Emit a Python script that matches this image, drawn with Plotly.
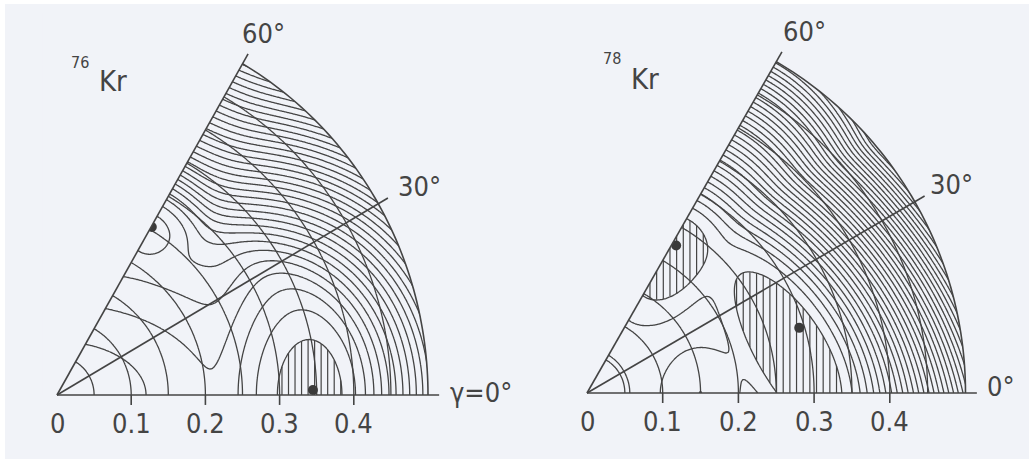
import numpy as np
import plotly.graph_objects as go

# ---------------------------------------------------------------- page / style
FIG_W, FIG_H = 1029, 459
BG = "#f1f3f8"
INK = "#444444"
FONT = "Liberation Sans Narrow, DejaVu Sans Condensed, Arial Narrow, sans-serif"

BETA_MAX = 0.5          # outer arc of each sextant
BETA_LINE_END = 0.515   # how far the 0/30/60 degree rays are drawn

# ---------------------------------------------------------------- shared data
ring_betas = [0.05, 0.10, 0.15, 0.20, 0.25, 0.30, 0.35, 0.40, 0.45]
beta_ticks = [0.1, 0.2, 0.3, 0.4]
beta_tick_labels = ["0", "0.1", "0.2", "0.3", "0.4"]
beta_tick_label_pos = [0.0, 0.1, 0.2, 0.3, 0.4]

# ---------------------------------------------------------------- 76Kr surface
# basins: spherical, prolate, oblate
kr76_basin_beta = [0.0, 0.345, 0.254]
kr76_basin_gamma = [0.0, 0.0, 60.0]
kr76_basin_energy = [0.0, -2.0, 2.3]
kr76_basin_width_a = [0.12, 0.048, 0.040]
kr76_basin_width_b = [0.07, 0.076, 0.040]
kr76_basin_orient = [0.0, 0.0, 60.0]
kr76_basin_power = [1.3, 1.5, 1.8]
kr76_wall_start = [0.40, 0.28]     # at gamma = 0, 60 deg
kr76_wall_slope = [60.0, 85.0]
kr76_levels = [-1.0, 60.0]
kr76_hatch_basin = [1]
kr76_hatch_level = [-1.0]
kr76_min_beta = [0.254, 0.345]
kr76_min_gamma = [59.8, 1.1]

# ---------------------------------------------------------------- 78Kr surface
# basins: spherical, small prolate pocket, oblate, triaxial
kr78_basin_beta = [0.0, 0.150, 0.222, 0.284]
kr78_basin_gamma = [0.0, 0.0, 59.0, 10.0]
kr78_basin_energy = [0.3, 0.0, -1.0, -1.5]
kr78_basin_width_a = [0.07, 0.05, 0.075, 0.108]
kr78_basin_width_b = [0.07, 0.059, 0.045, 0.040]
kr78_basin_orient = [0.0, 0.0, 60.0, -58.0]
kr78_basin_power = [1.6, 2.0, 1.8, 1.6]
kr78_wall_start = [0.34, 0.27]
kr78_wall_slope = [80.0, 90.0]
kr78_levels = [0.0, 60.0]
kr78_hatch_basin = [2, 3]
kr78_hatch_level = [0.0, 0.0]
kr78_min_beta = [0.226, 0.293]
kr78_min_gamma = [58.6, 16.9]


def surface(X, Y, bb, bg, be, wa, wb, orient, pw, wall_start, wall_slope,
            tau=0.6, delta=0.015):
    """Soft minimum of power-law basins plus a stiff outer wall."""
    basins = []
    for b, g, e, a, c, o, p in zip(bb, bg, be, wa, wb, orient, pw):
        xc, yc = b * np.cos(np.radians(g)), b * np.sin(np.radians(g))
        th = np.radians(o)
        u = (X - xc) * np.cos(th) + (Y - yc) * np.sin(th)
        v = -(X - xc) * np.sin(th) + (Y - yc) * np.cos(th)
        r = np.sqrt((u / a) ** 2 + (v / c) ** 2)
        basins.append(e + r ** p)
    B = np.stack(basins)
    m = B.min(axis=0)
    F = m - tau * np.log(np.exp(-(B - m) / tau).sum(axis=0))
    beta = np.hypot(X, Y)
    gam = np.clip(np.degrees(np.arctan2(Y, X)), 0, 60)
    w = (1 - np.cos(np.radians(3 * gam))) / 2
    bw = wall_start[0] + (wall_start[1] - wall_start[0]) * w
    S = wall_slope[0] + (wall_slope[1] - wall_slope[0]) * w
    F = F + S * delta * np.logaddexp(0, (beta - bw) / delta)
    return F, B.argmin(axis=0)


xg = np.linspace(0, 0.52, 261)
yg = np.linspace(0, 0.46, 231)
XG, YG = np.meshgrid(xg, yg)

panels = [
    dict(xa="x", ya="y", basins=(kr76_basin_beta, kr76_basin_gamma, kr76_basin_energy,
                                  kr76_basin_width_a, kr76_basin_width_b, kr76_basin_orient,
                                  kr76_basin_power),
         wall=(kr76_wall_start, kr76_wall_slope), levels=kr76_levels,
         hatch=(kr76_hatch_basin, kr76_hatch_level),
         minima=(kr76_min_beta, kr76_min_gamma)),
    dict(xa="x2", ya="y2", basins=(kr78_basin_beta, kr78_basin_gamma, kr78_basin_energy,
                                    kr78_basin_width_a, kr78_basin_width_b, kr78_basin_orient,
                                    kr78_basin_power),
         wall=(kr78_wall_start, kr78_wall_slope), levels=kr78_levels,
         hatch=(kr78_hatch_basin, kr78_hatch_level),
         minima=(kr78_min_beta, kr78_min_gamma)),
]

fig = go.Figure()
shapes = []
annotations = []
ink_scale = [[0, INK], [1, INK]]

for P in panels:
    xa, ya = P["xa"], P["ya"]
    F, owner = surface(XG, YG, *P["basins"], *P["wall"])

    # equal-energy contours
    fig.add_trace(go.Contour(
        x=xg, y=yg, z=F, xaxis=xa, yaxis=ya,
        contours=dict(coloring="lines", start=P["levels"][0], end=P["levels"][1], size=1),
        line=dict(width=1.3, smoothing=0.8), colorscale=ink_scale,
        showscale=False, hoverinfo="skip"))

    # constant-beta rings
    fig.add_trace(go.Contour(
        x=xg, y=yg, z=np.hypot(XG, YG), xaxis=xa, yaxis=ya,
        contours=dict(coloring="lines", start=ring_betas[0], end=ring_betas[-1],
                      size=ring_betas[1] - ring_betas[0]),
        line=dict(width=1.3, smoothing=1.0), colorscale=ink_scale,
        showscale=False, hoverinfo="skip"))

    # vertical hatching of the lowest pockets
    hx = np.arange(0.004, BETA_MAX, 0.0088)
    hy = np.linspace(0, 0.45, 901)
    HX, HY = np.meshgrid(hx, hy, indexing="ij")
    Fh, oh = surface(HX, HY, *P["basins"], *P["wall"])
    inside = (np.hypot(HX, HY) <= BETA_MAX) & (HY <= HX * np.tan(np.radians(60)))
    sel = np.zeros_like(inside)
    for b, lv in zip(*P["hatch"]):
        sel |= (oh == b) & (Fh < lv)
    sel &= inside
    sx, sy = [], []
    for i, x in enumerate(hx):
        col = sel[i]
        if not col.any():
            continue
        d = np.diff(np.concatenate([[0], col.astype(int), [0]]))
        starts, ends = np.where(d == 1)[0], np.where(d == -1)[0] - 1
        for s0, e0 in zip(starts, ends):
            sx += [x, x, None]
            sy += [hy[s0], hy[e0], None]
    fig.add_trace(go.Scatter(x=sx, y=sy, mode="lines", xaxis=xa, yaxis=ya,
                             line=dict(color=INK, width=1.2), hoverinfo="skip",
                             showlegend=False))

    # minima
    mb, mgam = np.array(P["minima"][0]), np.radians(P["minima"][1])
    fig.add_trace(go.Scatter(x=mb * np.cos(mgam), y=mb * np.sin(mgam), mode="markers",
                             xaxis=xa, yaxis=ya, marker=dict(size=10, color="#3a3a3a"),
                             hoverinfo="skip", showlegend=False))

    # mask everything outside the sextant
    arc_g = np.radians(np.linspace(60, 0, 61))
    pts = [(0, 0)] + [(BETA_MAX * np.cos(a), BETA_MAX * np.sin(a)) for a in arc_g] + \
          [(0.56, 0), (0.56, 0.5), (-0.02, 0.5), (-0.02, 0)]
    path = "M " + " L ".join(f"{px:.5f},{py:.5f}" for px, py in pts) + " Z"
    shapes.append(dict(type="path", path=path, xref=xa, yref=ya, fillcolor=BG,
                       line=dict(width=0), layer="above"))

    # frame: rays, outer arc and beta ticks
    for g in (0, 30, 60):
        gr = np.radians(g)
        shapes.append(dict(type="line", xref=xa, yref=ya, x0=0, y0=0,
                           x1=BETA_LINE_END * np.cos(gr), y1=BETA_LINE_END * np.sin(gr),
                           line=dict(color=INK, width=1.6), layer="above"))
    arc_pts = [(BETA_MAX * np.cos(a), BETA_MAX * np.sin(a)) for a in np.radians(np.linspace(0, 60, 61))]
    shapes.append(dict(type="path", xref=xa, yref=ya, layer="above",
                       path="M " + " L ".join(f"{px:.5f},{py:.5f}" for px, py in arc_pts),
                       line=dict(color=INK, width=1.6)))
    for t in beta_ticks:
        shapes.append(dict(type="line", xref=xa, yref=ya, x0=t, y0=0, x1=t, y1=-0.013,
                           line=dict(color=INK, width=1.6), layer="above"))
    for lab, pos in zip(beta_tick_labels, beta_tick_label_pos):
        annotations.append(dict(text=lab, x=pos, y=-0.037, xref=xa, yref=ya, showarrow=False,
                                font=dict(family=FONT, size=27, color=INK)))


def label(text, x, y, xa, ya, size):
    annotations.append(dict(text=text, x=x, y=y, xref=xa, yref=ya, showarrow=False,
                            font=dict(family=FONT, size=size, color=INK)))


# sextant labels
label("60°", 0.278, 0.472, "x", "y", 27)
label("30°", 0.488, 0.272, "x", "y", 27)
label("γ=0°", 0.572, 0.003, "x", "y", 27)
label("76", 0.031, 0.435, "x", "y", 16)
label("Kr", 0.075, 0.410, "x", "y", 29)

label("60°", 0.287, 0.472, "x2", "y2", 27)
label("30°", 0.482, 0.272, "x2", "y2", 27)
label("0°", 0.547, 0.008, "x2", "y2", 27)
label("78", 0.033, 0.437, "x2", "y2", 16)
label("Kr", 0.077, 0.410, "x2", "y2", 29)

# thin white border of the page
shapes.append(dict(type="rect", xref="paper", yref="paper", x0=0, x1=5 / FIG_W, y0=0, y1=1,
                   fillcolor="white", line=dict(width=0), layer="above"))
shapes.append(dict(type="rect", xref="paper", yref="paper", x0=0, x1=1, y0=1 - 4 / FIG_H, y1=1,
                   fillcolor="white", line=dict(width=0), layer="above"))

ax_common = dict(visible=False, showgrid=False, zeroline=False, fixedrange=True)
fig.update_layout(
    width=FIG_W, height=FIG_H, margin=dict(l=0, r=0, t=0, b=0),
    paper_bgcolor=BG, plot_bgcolor=BG, showlegend=False,
    xaxis=dict(domain=[0, 0.5], range=[-57 / 742, (514.5 - 57) / 742], **ax_common),
    yaxis=dict(domain=[0, 1], range=[(395 - 459) / 765, 395 / 765], **ax_common),
    xaxis2=dict(domain=[0.5, 1], range=[(514.5 - 587) / 757, (1029 - 587) / 757], **ax_common),
    yaxis2=dict(domain=[0, 1], range=[(393 - 459) / 765, 393 / 765], anchor="x2", **ax_common),
    shapes=shapes, annotations=annotations,
)
fig.write_html("out.html")
